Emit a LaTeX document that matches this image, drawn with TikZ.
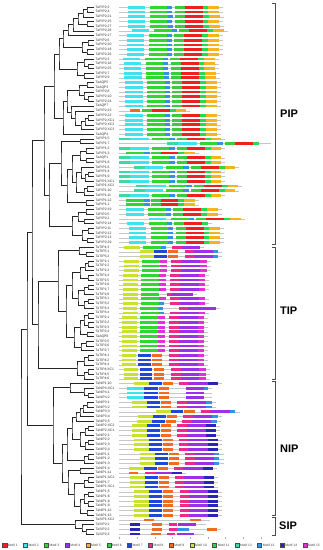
\documentclass[tikz,border=0pt]{standalone}
\usepackage{fontspec}
\setmainfont{Liberation Sans}
\usepackage{tikz}
\usetikzlibrary{positioning,calc}
\definecolor{Motif1}{HTML}{EE2020}
\definecolor{Motif2}{HTML}{3FE3F0}
\definecolor{Motif3}{HTML}{2FD82F}
\definecolor{Motif4}{HTML}{9B30E8}
\definecolor{Motif5}{HTML}{F7B21E}
\definecolor{Motif6}{HTML}{3CCB3C}
\definecolor{Motif7}{HTML}{1F47D9}
\definecolor{Motif8}{HTML}{EC2A8E}
\definecolor{Motif9}{HTML}{F26B21}
\definecolor{Motif10}{HTML}{C9E22B}
\definecolor{Motif11}{HTML}{26DB4A}
\definecolor{Motif12}{HTML}{3DD9A3}
\definecolor{Motif13}{HTML}{3391E6}
\definecolor{Motif14}{HTML}{2A25B8}
\definecolor{Motif15}{HTML}{E331D8}
\definecolor{TickLav}{HTML}{A9A6E6}

% one motif block / the grey protein line of a row
\newcommand\mseg[3]{\fill[#1] ({\xo+#2},{\ry-1.4}) rectangle ({\xo+#3},{\ry+1.4});}
\newcommand\mline[1]{\draw[backbone] (119,\ry) -- ({\xo+#1+4},\ry);}

% motif layouts
\newcommand\patPtwo{\mline{91.8}\mseg{Motif2}{0}{17.3}\mseg{Motif3}{22.2}{39.7}\mseg{Motif13}{39.7}{44.7}\mseg{Motif6}{47}{57.2}\mseg{Motif1}{57.2}{75}\mseg{Motif11}{75}{80.7}\mseg{Motif5}{80.7}{91.8}}
\newcommand\patPtwon{\mline{80.7}\mseg{Motif2}{0}{17.3}\mseg{Motif3}{22.2}{39.7}\mseg{Motif13}{39.7}{44.7}\mseg{Motif6}{47}{57.2}\mseg{Motif1}{57.2}{75}\mseg{Motif11}{75}{80.7}}
\newcommand\patPone{\mline{101.8}\mseg{Motif12}{0}{11.1}\mseg{Motif2}{11.1}{29.6}\mseg{Motif3}{32.8}{49.8}\mseg{Motif13}{49.8}{55.5}\mseg{Motif6}{57.5}{67.6}\mseg{Motif1}{67.6}{85.8}\mseg{Motif11}{85.8}{91.8}\mseg{Motif5}{91.8}{101.8}}
\newcommand\patPonen{\mline{100}\mseg{Motif12}{0}{11.1}\mseg{Motif2}{11.1}{29.6}\mseg{Motif3}{32.8}{49.8}\mseg{Motif13}{49.8}{55.5}\mseg{Motif6}{57.5}{67.6}\mseg{Motif1}{67.6}{85.8}\mseg{Motif11}{85.8}{91.8}}
\newcommand\patPones{\mline{68.6}\mseg{Motif3}{0}{17.5}\mseg{Motif13}{17.5}{23.6}\mseg{Motif6}{24.8}{34.3}\mseg{Motif1}{34.3}{51.8}\mseg{Motif11}{51.8}{57.8}\mseg{Motif5}{57.8}{68.6}}
\newcommand\patPx{\mline{56.2}\mseg{Motif9}{0}{10.1}\mseg{Motif6}{12.4}{21.9}\mseg{Motif1}{21.9}{40}\mseg{Motif11}{40}{46.1}\mseg{Motif5}{46.1}{56.2}}
\newcommand\patTzero{\mline{76}\mseg{Motif10}{0}{15.5}\mseg{Motif3}{18.8}{36.3}\mseg{Motif13}{36.3}{41.4}\mseg{Motif8}{47.5}{58.2}\mseg{Motif4}{58.2}{76}}
\newcommand\patTone{\mline{82.4}\mseg{Motif10}{0}{15.1}\mseg{Motif3}{17.8}{36}\mseg{Motif15}{36}{42.7}\mseg{Motif8}{47.1}{57.1}\mseg{Motif4}{57.1}{75.6}\mseg{Motif15}{75.6}{82.4}}
\newcommand\patToneb{\mline{82.4}\mseg{Motif10}{0}{15.1}\mseg{Motif3}{17.8}{36}\mseg{Motif13}{36}{41.4}\mseg{Motif8}{47.1}{57.1}\mseg{Motif4}{57.1}{75.6}\mseg{Motif15}{75.6}{82.4}}
\newcommand\patTonec{\mline{69.6}\mseg{Motif10}{0}{15.1}\mseg{Motif3}{17.8}{36}\mseg{Motif8}{44.4}{48}\mseg{Motif4}{48}{69.6}}
\newcommand\patTshift{\mline{93.1}\mseg{Motif10}{0}{14.1}\mseg{Motif3}{17.5}{35}\mseg{Motif13}{35}{40.4}\mseg{Motif8}{56.1}{65.2}\mseg{Motif4}{65.2}{93.1}}
\newcommand\patTtwo{\mline{82.4}\mseg{Motif10}{0}{14.4}\mseg{Motif7}{16.1}{28.6}\mseg{Motif9}{30.2}{40.3}\mseg{Motif8}{47.1}{57.1}\mseg{Motif4}{57.1}{75.6}\mseg{Motif15}{75.6}{82.4}}
\newcommand\patTthree{\mline{78.7}\mseg{Motif10}{0}{14.1}\mseg{Motif7}{14.1}{27.6}\mseg{Motif9}{28.6}{38.3}\mseg{Motif8}{45.1}{53.8}\mseg{Motif4}{53.8}{73}\mseg{Motif13}{73}{78.7}}
\newcommand\patN{\mline{84.1}\mseg{Motif10}{0}{15.1}\mseg{Motif7}{15.1}{27.9}\mseg{Motif9}{28.9}{39}\mseg{Motif8}{45.4}{54.8}\mseg{Motif4}{54.8}{74}\mseg{Motif14}{74}{84.1}}
\newcommand\patNl{\mline{80}\mseg{Motif10}{0}{15.1}\mseg{Motif7}{15.1}{27.9}\mseg{Motif9}{28.9}{39}\mseg{Motif8}{45.4}{54.8}\mseg{Motif4}{54.8}{74}\mseg{Motif13}{74}{79.5}}
\newcommand\patNc{\mline{81.4}\mseg{Motif2}{0}{17.5}\mseg{Motif7}{17.5}{31}\mseg{Motif9}{32}{42.1}\mseg{Motif4}{58.9}{76.7}\mseg{Motif13}{76.7}{81.4}}
\newcommand\patNcn{\mline{81.4}\mseg{Motif2}{0}{17.5}\mseg{Motif7}{17.5}{31}\mseg{Motif9}{32}{42.1}\mseg{Motif4}{58.9}{76.7}}
\newcommand\patNx{\mline{53.8}\mseg{Motif9}{0}{9.1}\mseg{Motif8}{16.8}{26.9}\mseg{Motif4}{26.9}{43.7}\mseg{Motif14}{43.7}{53.8}}
\newcommand\patSone{\mline{62}\mseg{Motif9}{0}{10.1}\mseg{Motif9}{46.4}{57.2}}
\newcommand\patStwo{\mline{72}\mseg{Motif14}{0}{10.1}\mseg{Motif9}{21.8}{31.9}\mseg{Motif8}{38.7}{46.4}\mseg{Motif4}{47.7}{65.6}}
\newcommand\patSthree{\mline{86.8}\mseg{Motif14}{0}{10.1}\mseg{Motif9}{21.8}{31.9}\mseg{Motif8}{38.7}{46.4}\mseg{Motif13}{46.4}{58.8}\mseg{Motif9}{76.7}{86.8}}
\newcommand\patSfour{\mline{70}\mseg{Motif14}{0}{10.1}\mseg{Motif9}{21.5}{31.6}\mseg{Motif8}{37.7}{45.1}\mseg{Motif4}{47.1}{64.6}}

\begin{document}
\begin{tikzpicture}[
  x=1pt, y=-1pt,
  branch/.style={draw=black!85, line width=0.4pt},
  backbone/.style={draw=black!22, line width=0.4pt},
  leaf/.style={inner sep=0pt, text=black!80, font=\fontsize{3.4}{4}\selectfont},
  group/.style={inner sep=0pt, font=\fontsize{11}{12}\selectfont\bfseries},
  bracket/.style={draw=black!70, line width=0.6pt},
  legsq/.style={draw=black!70, line width=0.2pt, minimum size=4pt, inner sep=0pt},
  legtxt/.style={inner sep=0pt, text=black!75, font=\fontsize{3.3}{4}\selectfont},
  tick/.style={draw=TickLav, line width=0.7pt}
]
\fill[white] (0,0) rectangle (322,550);
\useasboundingbox (0,0) rectangle (322,550);

% leaves and their names
\foreach \k in {0,...,112}
  \coordinate (l\k) at (94,{7.3+4.703*\k});
\foreach \k/\t in {0/TaPIP2;2,1/TaPIP2;4,2/TaPIP2;21,3/TaPIP2;15,4/TaPIP2;27,5/TaPIP2;28,
  6/TaPIP2;17,7/TaPIP2;6,8/TaPIP2;20,9/TaPIP2;18,10/TaPIP2;26,11/TaPIP2;3,12/TaPIP2;16,
  13/TaPIP2;25,14/TaPIP2;7,15/TaPIP2;9,16/TaAQP5,17/TaAQP3,18/TaPIP2;8,19/TaPIP2;10,
  20/TaPIP2;24,21/TaAQP7,22/TaPIP2;23,23/TaPIP2;22,24/TaPIP2;XC1,25/TaPIP2;XC2,26/TaPIP2;XC3,
  27/TaAQP4,28/TaPIP1;5,29/TaPIP1;7,30/TaPIP1;2,31/TaPIP1;3,32/TaAQP1,33/TaPIP1;8,
  34/TaPIP1;6,35/TaPIP1;4,36/TaPIP1;9,37/TaPIP1;XC1,38/TaPIP1;XC2,39/TaPIP1;10,40/TaPIP1;11,
  41/TaPIP1;12,42/TaPIP1;1,43/TaPIP2;19,44/TaPIP2;5,45/TaPIP2;1,46/TaPIP2;14,47/TaPIP2;11,
  48/TaPIP2;12,49/TaPIP2;13,50/TaPIP2;29,
  51/TaTIP4;3,52/TaTIP5;1,53/TaTIP5;2,54/TaTIP1;1,55/TaTIP1;2,56/TaTIP1;3,57/TaTIP1;4,
  58/TaTIP1;5,59/TaTIP1;6,60/TaTIP1;7,61/TaTIP1;8,62/TaTIP3;1,63/TaTIP3;2,64/TaTIP3;3,
  65/TaTIP3;4,66/TaTIP2;1,67/TaTIP2;2,68/TaTIP2;3,69/TaTIP2;4,70/TaAQP8,71/TaTIP2;5,
  72/TaTIP2;6,73/TaTIP2;7,74/TaTIP4;1,75/TaTIP4;2,76/TaTIP4;4,77/TaTIP4;XC1,78/TaTIP4;5,
  79/TaTIP4;6,
  80/TaNIP1;10,81/TaNIP4;XC1,82/TaNIP4;1,83/TaNIP4;2,84/TaNIP3;1,85/TaNIP3;2,86/TaNIP3;3,
  87/TaNIP3;4,88/TaNIP3;5,89/TaNIP2;XC2,90/TaNIP2;XC1,91/TaNIP2;1,92/TaNIP2;2,93/TaNIP2;3,
  94/TaNIP2;4,95/TaNIP1;1,96/TaNIP1;2,97/TaNIP1;3,98/TaNIP1;4,99/TaNIP1;11,100/TaNIP1;XC2,
  101/TaNIP1;7,102/TaNIP1;XC1,103/TaNIP1;5,104/TaNIP1;6,105/TaNIP1;8,106/TaNIP1;9,
  107/TaNIP1;12,108/TaNIP1;13,
  109/TaSIP1;XC2,110/TaSIP2;1,111/TaSIP2;2,112/TaSIP2;3}
  \node[leaf, right=1.5pt of l\k] (t\k) {\t};

% tree: clade / x / upper child / lower child
\foreach \nm/\xp/\ca/\cb in {a1/87/l0/l1,a2/83/a1/l2,a3/87/l3/l4,a4/78/a2/a3,a5/73/a4/l5,
  a6/68/a5/l6,a7/88/l7/l8,a8/87/l9/l10,a9/82/a7/a8,a10/63/a6/a9,a11/88/l12/l13,a12/84/l11/a11,
  a13/84/l14/l15,a14/77/a12/a13,a15/59/a10/a14,a16/87/l16/l17,a17/88/l19/l20,a18/84/l18/a17,
  a19/79/a16/a18,a20/88/l23/l24,a21/85/a20/l25,a22/81/a21/l26,a23/75/l22/a22,a24/71/l21/a23,
  a25/67/a19/a24,a26/63/a25/l27,a27/54/a15/a26,
  b1/80/l28/l29,b2/86/l30/l31,b3/86/l32/l33,b4/80/b2/b3,b5/88/l35/l36,b6/85/b5/l37,
  b7/81/l34/b6,b8/87/l38/l39,b9/84/b8/l40,b10/76/b7/b9,b11/72/b4/b10,b12/86/l41/l42,
  b13/67/b11/b12,b14/61/b1/b13,b15/86/l43/l44,b16/84/l45/l46,b17/78/b15/b16,b18/88/l47/l48,
  b19/87/l49/l50,b20/82/b18/b19,b21/72/b17/b20,b22/49/b14/b21,pip/44/a27/b22,
  c1/86/l52/l53,c2/79/l51/c1,c3/88/l54/l55,c4/85/c3/l56,c5/88/l57/l58,c6/80/c4/c5,
  c7/88/l59/l60,c8/84/c7/l61,c9/88/l62/l63,c10/84/c9/l64,c11/78/c8/c10,c12/72/c6/c11,
  c13/88/l65/l66,c14/88/l67/l68,c15/84/c13/c14,c16/87/l69/l70,c17/80/c15/c16,c18/86/l71/l72,
  c19/81/c18/l73,c20/74/c17/c19,c21/66/c12/c20,c22/58/c2/c21,c23/88/l74/l75,c24/84/c23/l76,
  c25/88/l77/l78,c26/84/c25/l79,c27/77/c24/c26,tip/38/c22/c27,pt/32/pip/tip,
  d1/88/l82/l83,d2/84/l81/d1,d3/70/l80/d2,d4/87/l84/l85,d5/83/d4/l86,d6/80/d5/l87,
  d7/76/d6/l88,d8/88/l89/l90,d9/85/d8/l91,d10/88/l92/l93,d11/85/d10/l94,d12/80/d9/d11,
  d13/72/d7/d12,d14/88/l95/l96,d15/84/d14/l97,d16/67/d13/d15,d17/80/l98/l99,d18/88/l100/l101,
  d19/84/d18/l102,d20/88/l103/l104,d21/88/l105/l106,d22/84/d20/d21,d23/87/l107/l108,
  d24/80/d22/d23,d25/74/d19/d24,d26/68/d17/d25,d27/62/d16/d26,nip/53/d3/d27,
  e1/86/l111/l112,e2/82/l110/e1,sip/75/l109/e2,inner/27/pt/nip,root/21/inner/sip}
{
  \coordinate (mid\nm) at ($(\ca)!0.5!(\cb)$);
  \coordinate (\nm) at (\xp,0 |- mid\nm);
  \draw[branch] (\ca) -| (\nm) |- (\cb);
}

% motif rows: row / layout / start
\foreach \k/\p/\s in {0/Ptwo/127.6,1/Ptwo/127.6,2/Ptwo/127.9,3/Ptwo/127.6,4/Ptwo/127.9,
  5/Ptwo/132,6/Ptwo/127,7/Ptwo/127,8/Ptwo/127,9/Ptwo/127,10/Ptwo/127,11/Ptwo/122.9,
  12/Ptwo/123.5,13/Ptwo/123.5,14/Ptwo/124.2,15/Ptwo/124.2,16/Ptwo/125.2,17/Ptwo/125.2,
  18/Ptwo/125.2,19/Ptwo/125.2,20/Ptwo/125.2,21/Ptwo/125.2,22/Px/129.6,23/Ptwo/125.2,
  24/Ptwo/125.2,25/Ptwo/125.2,26/Ptwo/125.2,27/Ptwo/125.2,
  28/Pone/119.2,29/Ponen/167,30/Pone/119.2,31/Pones/126.2,32/Pone/119.2,33/Pone/119.2,
  34/Pone/133.6,35/Pone/119.2,36/Pone/119.2,37/Pone/119.2,38/Pone/136.3,39/Pone/133.6,
  40/Pone/119.2,41/Pones/126.2,42/Pones/126.2,43/Ptwo/126.2,44/Ptwo/126.2,45/Ptwo/148.8,
  46/Ptwon/127,47/Ptwo/128.6,48/Ptwo/128.6,49/Ptwo/128.6,50/Ptwo/128.6,
  51/Tzero/124.2,52/Tthree/139.7,53/Tthree/139.7,54/Tone/124.2,55/Tone/124.2,56/Tone/124.2,
  57/Tone/122.9,58/Tone/122.9,59/Tone/122.9,60/Tone/122.9,61/Tonec/122.9,62/Tone/122.9,
  63/Toneb/122.9,64/Tshift/122.9,65/Toneb/122.9,66/Tone/121.9,67/Tone/121.9,68/Tone/121.9,
  69/Tone/121.9,70/Tone/121.9,71/Tone/121.9,72/Tone/121.9,73/Tone/121.9,74/Ttwo/121.9,
  75/Ttwo/121.9,76/Ttwo/121.9,77/Ttwo/123.5,78/Ttwo/123.5,79/Ttwo/123.5,
  80/N/133.6,81/Nc/126.9,82/Ncn/126.9,83/Ncn/126.9,84/Nl/132,85/Nl/132,86/Nl/155.5,
  87/Nl/138,88/Nl/137,89/N/132,90/N/132,91/N/132,92/N/133.6,93/N/133.6,94/N/133.6,
  95/Nl/139.7,96/Nl/139.7,97/Nl/139.7,98/N/128.6,99/Nx/128.6,100/N/129.6,101/N/129.6,
  102/N/129.6,103/N/134.3,104/N/134.3,105/N/134.3,106/N/134.3,107/N/134.3,108/N/134.3,
  109/Sone/143.7,110/Stwo/130.3,111/Sthree/130.3,112/Sfour/129.6}
{
  \pgfmathsetmacro\ry{7.3+4.703*\k}
  \edef\xo{\s}
  \csname pat\p\endcsname
}

% subfamily brackets
\draw[bracket] (272,3) -- (275,3) -- (275,244) -- (272,244);
\draw[bracket] (272,247) -- (275,247) -- (275,379) -- (272,379);
\draw[bracket] (272,381) -- (275,381) -- (275,515) -- (272,515);
\draw[bracket] (272,517.5) -- (275,517.5) -- (275,535) -- (272,535);
\node[group, anchor=west] (lpip) at (280,114) {PIP};
\node[group, anchor=west] (ltip) at (280,311) {TIP};
\node[group, anchor=west] (lnip) at (280,449) {NIP};
\node[group, anchor=west] (lsip) at (279,526) {SIP};

% scale ticks
\foreach \i in {0,...,8}
  \draw[tick] ({119.5+17.7*\i},536.8) -- ++(0,2.4);

% legend
\node[legsq, fill=Motif1, anchor=west] (sq1) at (2.5,545.5) {};
\node[legtxt, right=1pt of sq1] (lt1) {Motif 1};
\foreach \i [remember=\i as \j (initially 1)] in {2,...,15} {
  \node[legsq, fill=Motif\i, right=5.3pt of lt\j] (sq\i) {};
  \node[legtxt, right=1pt of sq\i] (lt\i) {Motif \i};
}
\end{tikzpicture}
\end{document}
